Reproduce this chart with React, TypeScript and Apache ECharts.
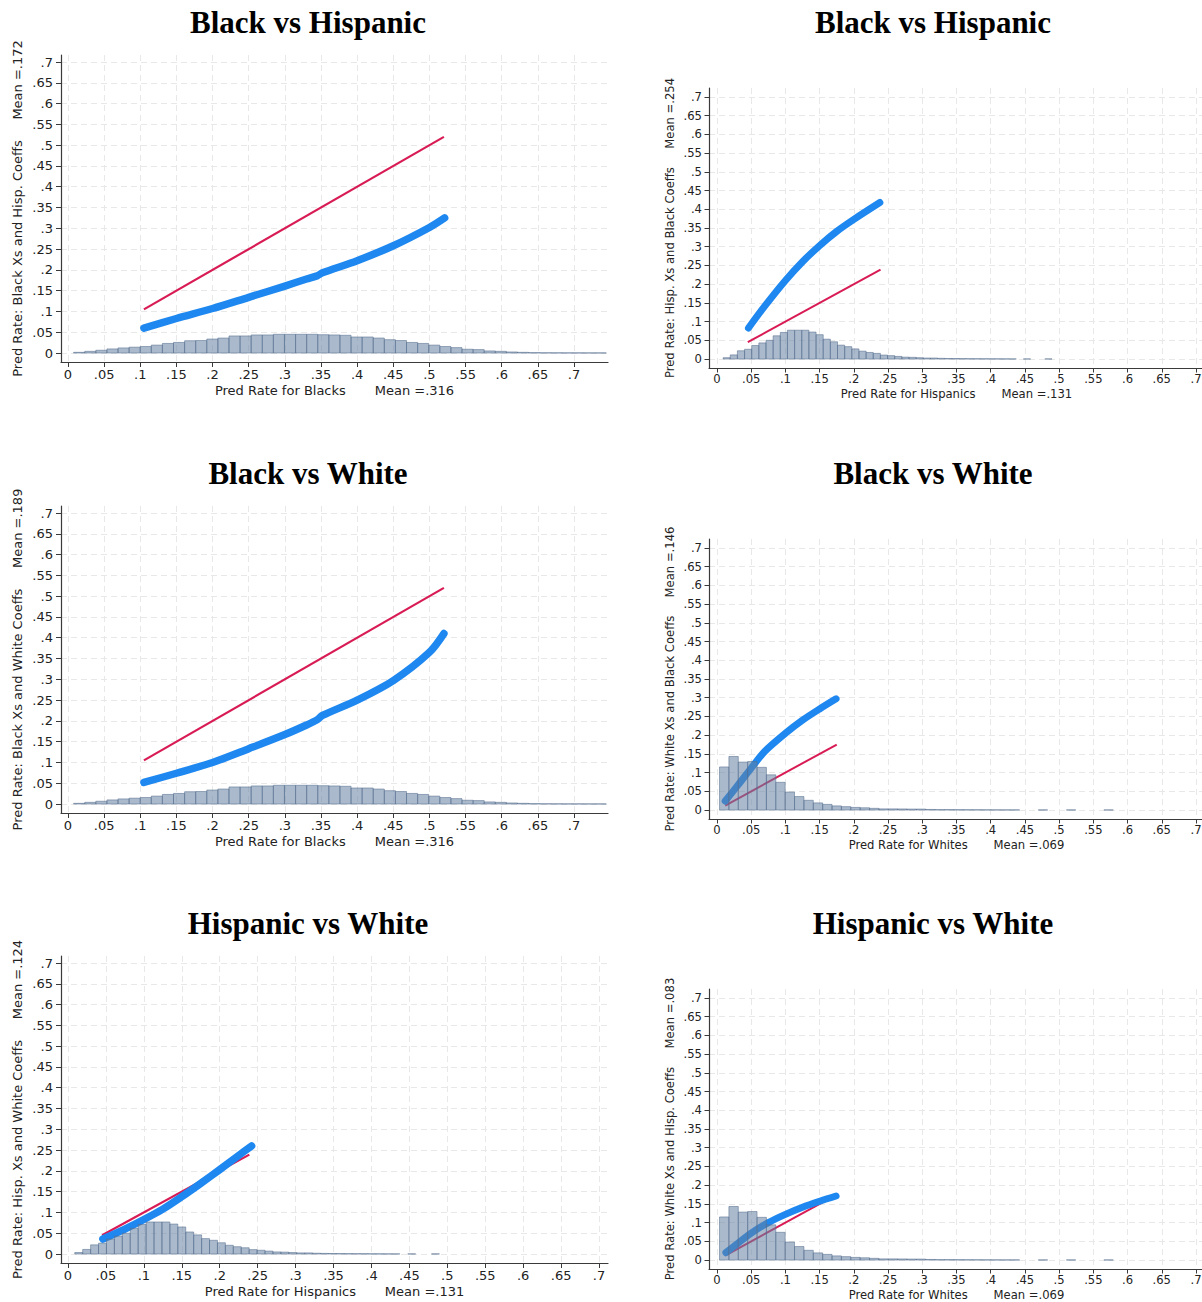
import React, { useEffect, useRef } from "react";
import * as echarts from "echarts";

// ---------- tick labels ----------
const tickValues = [0, 0.05, 0.1, 0.15, 0.2, 0.25, 0.3, 0.35, 0.4, 0.45, 0.5, 0.55, 0.6, 0.65, 0.7];

// ---------- histograms (fraction of observations per bin) ----------
const blackHistStart = 0.0078;
const blackHistWidth = 0.01535;
const blackHistFrac = [
  0.0016, 0.004, 0.0066, 0.0098, 0.0123, 0.014, 0.0156, 0.019, 0.023, 0.0254,
  0.0295, 0.03, 0.0336, 0.036, 0.041, 0.041, 0.0434, 0.0434, 0.045, 0.045,
  0.045, 0.045, 0.044, 0.0434, 0.0426, 0.0385, 0.0385, 0.036, 0.032, 0.03,
  0.0254, 0.023, 0.019, 0.0156, 0.013, 0.009, 0.0082, 0.005, 0.004, 0.0025,
  0.0016, 0.0008, 0.0005, 0.0004, 0.0003, 0.0003, 0.0002, 0.0002,
];

const hispHistStart = 0.0089;
const hispHistWidth = 0.01045;
const hispHistFrac = [
  0.0035, 0.011, 0.022, 0.026, 0.036, 0.043, 0.05, 0.062, 0.071, 0.077,
  0.077, 0.077, 0.072, 0.065, 0.053, 0.046, 0.037, 0.033, 0.027, 0.021,
  0.0175, 0.015, 0.0105, 0.009, 0.007, 0.005, 0.0045, 0.0035, 0.0026, 0.0026,
  0.0018, 0.0014, 0.0012, 0.001, 0.0008, 0.0007, 0.0006, 0.0005, 0.0004, 0.0003,
  0.0002, 0, 0.0002, 0, 0, 0.0002,
];

const whiteHistStart = 0.0037;
const whiteHistWidth = 0.0137;
const whiteHistFrac = [
  0.115, 0.143, 0.128, 0.1295, 0.114, 0.094, 0.074, 0.048, 0.036, 0.026,
  0.019, 0.015, 0.011, 0.009, 0.007, 0.006, 0.0045, 0.003, 0.003, 0.0028,
  0.0025, 0.0025, 0.0015, 0.001, 0.001, 0.0008, 0.0007, 0.0006, 0.0005, 0.0004,
  0.0003, 0.0003, 0, 0, 0.0002, 0, 0, 0.0002, 0, 0, 0, 0.0002, 0,
];

// ---------- 45-degree reference line ranges ----------
const blackRange = [0.105, 0.52];
const hispRange = [0.045, 0.239];
const whiteRange = [0.012, 0.175];

// ---------- counterfactual predicted rates (blue curves) ----------
const blackHispX = [0.105, 0.15, 0.2, 0.25, 0.3, 0.33, 0.345, 0.352, 0.4, 0.45, 0.5, 0.521];
const blackHispY = [0.06, 0.083, 0.107, 0.134, 0.161, 0.178, 0.186, 0.193, 0.222, 0.258, 0.302, 0.325];

const hispBlackX = [0.046, 0.07, 0.1, 0.125, 0.15, 0.175, 0.2, 0.238];
const hispBlackY = [0.083, 0.142, 0.21, 0.26, 0.303, 0.341, 0.373, 0.418];

const blackWhiteX = [0.105, 0.15, 0.2, 0.25, 0.3, 0.33, 0.345, 0.352, 0.4, 0.45, 0.5, 0.52];
const blackWhiteY = [0.052, 0.074, 0.1, 0.133, 0.167, 0.19, 0.203, 0.213, 0.25, 0.297, 0.365, 0.41];

const whiteBlackX = [0.012, 0.03, 0.05, 0.07, 0.1, 0.125, 0.15, 0.174];
const whiteBlackY = [0.024, 0.065, 0.112, 0.157, 0.205, 0.24, 0.27, 0.297];

const hispWhiteX = [0.046, 0.075, 0.1, 0.125, 0.15, 0.175, 0.2, 0.225, 0.242];
const hispWhiteY = [0.036, 0.06, 0.083, 0.108, 0.138, 0.17, 0.203, 0.237, 0.26];

const whiteHispX = [0.013, 0.025, 0.05, 0.075, 0.1, 0.125, 0.15, 0.174];
const whiteHispY = [0.02, 0.037, 0.072, 0.1, 0.122, 0.141, 0.157, 0.171];

// ---------- texts ----------
const titles = ["Black vs Hispanic", "Black vs Hispanic", "Black vs White", "Black vs White", "Hispanic vs White", "Hispanic vs White"];
const xTitles = ["Pred Rate for Blacks", "Pred Rate for Hispanics", "Pred Rate for Blacks", "Pred Rate for Whites", "Pred Rate for Hispanics", "Pred Rate for Whites"];
const xMeans = [".316", ".131", ".316", ".069", ".131", ".069"];
const yTitles = [
  "Pred Rate: Black Xs and Hisp. Coeffs",
  "Pred Rate: Hisp. Xs and Black Coeffs",
  "Pred Rate: Black Xs and White Coeffs",
  "Pred Rate: White Xs and Black Coeffs",
  "Pred Rate: Hisp. Xs and White Coeffs",
  "Pred Rate: White Xs and Hisp. Coeffs",
];
const yMeans = [".172", ".254", ".189", ".146", ".124", ".083"];

const hists = {
  black: { start: blackHistStart, width: blackHistWidth, frac: blackHistFrac },
  hisp: { start: hispHistStart, width: hispHistWidth, frac: hispHistFrac },
  white: { start: whiteHistStart, width: whiteHistWidth, frac: whiteHistFrac },
};
const ranges = { black: blackRange, hisp: hispRange, white: whiteRange };
const panelHist = ["black", "hisp", "black", "white", "hisp", "white"];
const blueX = [blackHispX, hispBlackX, blackWhiteX, whiteBlackX, hispWhiteX, whiteHispX];
const blueY = [blackHispY, hispBlackY, blackWhiteY, whiteBlackY, hispWhiteY, whiteHispY];

const fmt = (v: number) => {
  if (Math.abs(v) < 1e-9) return "0";
  return String(Math.round(v * 100) / 100).replace(/^0\./, ".");
};

const NB = "\u00a0";

function buildOption() {
  const grid: any[] = [];
  const xAxis: any[] = [];
  const yAxis: any[] = [];
  const series: any[] = [];
  const graphic: any[] = [];

  for (let i = 0; i < 6; i++) {
    const col = i % 2;
    const row = Math.floor(i / 2);
    const left = col === 0;
    const fs = left ? 13 : 11.6;
    const gl = left ? 61 : 709;
    const gw = left ? 547 : 495;
    const gh = left ? 307 : 280;
    const gt = left ? [55, 506, 956][row] : [88, 539, 989][row];
    const h = panelHist[i];
    let xMin: number, xMax: number;
    if (left) {
      if (h === "black") { xMin = -0.00968; xMax = 0.747; }
      else { xMin = -0.00923; xMax = 0.7118; }
    } else { xMin = -0.0117; xMax = 0.7117; }
    const yMin = left ? -0.02165 : -0.024;
    const yMax = left ? 0.7169 : 0.724;

    grid.push({ left: gl, top: gt, width: gw, height: gh, containLabel: false, outerBoundsMode: "none" });

    const axisCommon = {
      axisLine: { show: true, onZero: false, lineStyle: { color: "#3a3a3a", width: 1.2 } },
      axisTick: { show: true, inside: false, length: left ? 5 : 4.5, customValues: tickValues, lineStyle: { color: "#3a3a3a", width: 1 } },
      splitLine: { show: true, lineStyle: { color: "#e8e8e8", width: 1, type: [6, 4] } },
      nameLocation: "middle",
      nameMoveOverlap: false,
      nameTextStyle: { fontFamily: "DejaVu Sans", fontSize: fs, color: "#222" },
    };

    xAxis.push({
      ...axisCommon,
      type: "value",
      gridIndex: i,
      min: xMin,
      max: xMax,
      name: xTitles[i] + NB.repeat(7) + "Mean =" + xMeans[i],
      nameGap: left ? 22 : 20,
      axisLabel: { customValues: tickValues, formatter: fmt, margin: left ? 6 : 5, fontFamily: "DejaVu Sans", fontSize: fs, color: "#222" },
    });
    yAxis.push({
      ...axisCommon,
      type: "value",
      gridIndex: i,
      min: yMin,
      max: yMax,
      name: yTitles[i] + NB.repeat(5) + "Mean =" + yMeans[i],
      nameGap: left ? 37 : 33,
      axisLabel: { customValues: tickValues, formatter: fmt, margin: left ? 8 : 7, fontFamily: "DejaVu Sans", fontSize: fs, color: "#222" },
    });

    // 45-degree line
    const r = ranges[h];
    series.push({
      type: "line",
      xAxisIndex: i,
      yAxisIndex: i,
      data: [[r[0], r[0]], [r[1], r[1]]],
      showSymbol: false,
      symbol: "none",
      lineStyle: { color: "#d81b55", width: left ? 2.2 : 2 },
      z: 2,
      silent: true,
    });
    // counterfactual curve
    series.push({
      type: "line",
      xAxisIndex: i,
      yAxisIndex: i,
      data: blueX[i].map((x, k) => [x, blueY[i][k]]),
      showSymbol: false,
      symbol: "none",
      smooth: 0.3,
      lineStyle: { color: "#1e88f0", width: left ? 7.5 : 7, cap: "round", join: "round" },
      z: 3,
      silent: true,
    });
    // histogram
    const hs = hists[h];
    const hdata = hs.frac
      .map((f, k) => [hs.start + k * hs.width, hs.start + (k + 1) * hs.width, f])
      .filter((d) => d[2] > 0);
    series.push({
      type: "custom",
      xAxisIndex: i,
      yAxisIndex: i,
      data: hdata,
      encode: { x: [0, 1], y: 2 },
      z: 4,
      silent: true,
      renderItem: (params: any, api: any) => {
        const p0 = api.coord([api.value(0), api.value(2)]);
        const p1 = api.coord([api.value(1), 0]);
        return {
          type: "rect",
          shape: { x: p0[0], y: p0[1], width: p1[0] - p0[0], height: p1[1] - p0[1] },
          style: { fill: "rgba(100,130,162,0.55)", stroke: "rgba(85,110,142,0.55)", lineWidth: 1 },
        };
      },
    });

    graphic.push({
      type: "text",
      x: left ? 308 : 933,
      y: [22, 473, 923][row],
      style: {
        text: titles[i],
        fontFamily: "Liberation Serif",
        fontWeight: "bold",
        fontSize: 31,
        fill: "#000",
        textAlign: "center",
        textVerticalAlign: "middle",
        align: "center",
        verticalAlign: "middle",
      },
    });
  }

  return {
    animation: false,
    backgroundColor: "#fff",
    grid,
    xAxis,
    yAxis,
    series,
    graphic,
  };
}

export default function App() {
  const ref = useRef<HTMLDivElement>(null);
  useEffect(() => {
    document.body.style.margin = "0";
    document.body.style.overflow = "hidden";
    const chart = echarts.init(ref.current!, undefined, { renderer: "svg" });
    chart.setOption(buildOption() as any);
    return () => chart.dispose();
  }, []);
  return <div ref={ref} style={{ position: "absolute", left: 0, top: 0, width: 1202, height: 1302 }} />;
}
